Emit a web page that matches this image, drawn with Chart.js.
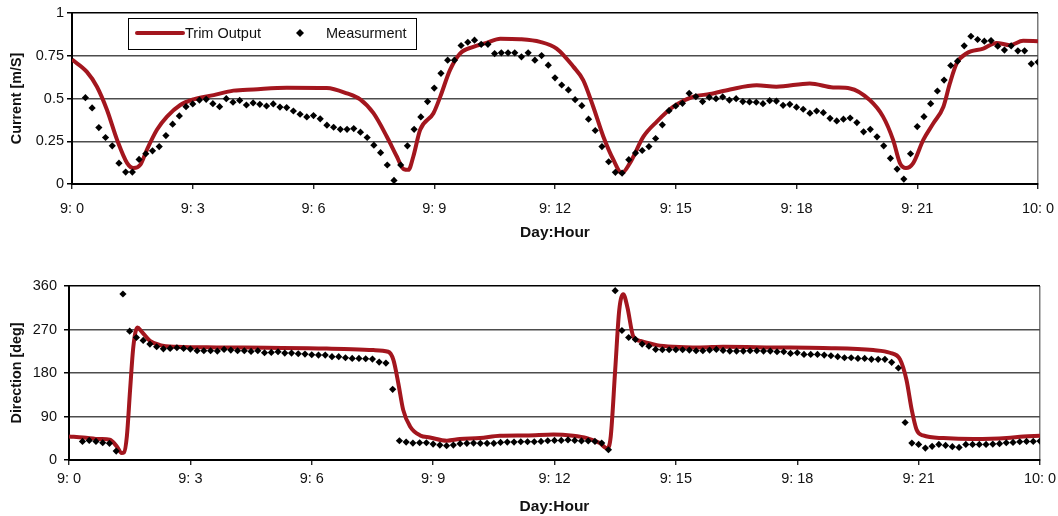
<!DOCTYPE html>
<html>
<head>
<meta charset="utf-8">
<script src="https://cdn.jsdelivr.net/npm/chart.js@4.4.0/dist/chart.umd.min.js"></script>
<style>
  body { margin: 0; background: #fff; }
  #top-wrap { position: absolute; left: 0; top: 0; width: 1058px; height: 258px; }
  #bottom-wrap { position: absolute; left: 0; top: 258px; width: 1058px; height: 258px; }
</style>
</head>
<body>
<div id="top-wrap"><canvas id="current-chart" width="1058" height="258"></canvas></div>
<div id="bottom-wrap"><canvas id="direction-chart" width="1058" height="258"></canvas></div>
<script>
// x axis: hours since day 9, 0:00
const xTickHours = [0, 3, 6, 9, 12, 15, 18, 21, 24];
const xTickLabels = ['9: 0', '9: 3', '9: 6', '9: 9', '9: 12', '9: 15', '9: 18', '9: 21', '10: 0'];

const currentTicks = [0, 0.25, 0.5, 0.75, 1];
const currentTickLabels = ['0', '0.25', '0.5', '0.75', '1'];
const directionTicks = [0, 90, 180, 270, 360];
const directionTickLabels = ['0', '90', '180', '270', '360'];

// measurements every 10 minutes starting at 0:20
const measStartHour = 1 / 3;
const measStepHour = 1 / 6;

const measCurrent = [
  0.505, 0.445, 0.33, 0.272, 0.223, 0.122, 0.07, 0.07, 0.144, 0.177,
  0.194, 0.219, 0.283, 0.35, 0.398, 0.452, 0.468, 0.491, 0.495, 0.47,
  0.452, 0.499, 0.478, 0.489, 0.462, 0.474, 0.466, 0.456, 0.468, 0.45,
  0.447, 0.427, 0.408, 0.392, 0.4, 0.381, 0.344, 0.332, 0.32, 0.32,
  0.324, 0.303,
  0.272, 0.227, 0.183, 0.111, 0.021, 0.111, 0.223, 0.32, 0.392, 0.482,
  0.561, 0.647, 0.724, 0.724, 0.81, 0.829, 0.841, 0.817, 0.817, 0.763,
  0.767, 0.767, 0.767, 0.744, 0.767, 0.724, 0.751, 0.695, 0.621, 0.579,
  0.55, 0.493, 0.458, 0.379, 0.313, 0.219, 0.13, 0.068, 0.064, 0.142,
  0.181, 0.196, 0.219, 0.266, 0.346, 0.429, 0.456, 0.472, 0.53, 0.511,
  0.482, 0.507, 0.499, 0.509, 0.491, 0.499, 0.482, 0.48, 0.478, 0.47,
  0.487, 0.485, 0.46, 0.466, 0.449, 0.437, 0.414, 0.427, 0.417, 0.384,
  0.369, 0.379, 0.386, 0.359, 0.305, 0.32, 0.276, 0.223, 0.15, 0.087,
  0.029, 0.177, 0.336, 0.394, 0.47, 0.544, 0.608, 0.693, 0.718, 0.808,
  0.864, 0.845, 0.835, 0.839, 0.806, 0.783, 0.808, 0.779, 0.779, 0.703,
  0.713
];

const measDirection = [
  38.5, 40.5, 38.5, 35.7, 34.4, 18.5, 343.5, 266.6, 253.5, 247.3,
  239.8, 234.3, 230.1, 230.8, 232.2, 230.8, 229.5, 226.0, 226.0, 226.0,
  225.3, 228.8, 227.4, 226.0, 226.0, 224.6, 226.0, 221.9, 222.6, 224.0,
  221.2, 221.2, 219.8, 219.2, 217.8, 217.1, 217.1, 213.7, 213.7, 211.6,
  210.2, 210.2,
  209.5, 208.8, 202.7, 200.6, 146.3,
  39.8, 37.1, 35.0, 35.7, 35.7, 33.0, 30.9, 29.5, 30.9, 33.7,
  34.4, 35.0, 34.4, 34.4, 34.4, 36.4, 37.1, 37.1, 37.8, 37.8,
  37.8, 38.5, 39.8, 40.5,
  40.5, 41.5, 40.5, 39.5, 39.5, 38.4, 35.0, 21.2,
  350.4, 267.9, 253.5, 249.4, 239.8, 235.6, 228.8, 228.1, 228.1, 228.1,
  228.1, 227.4, 226.0,
  226.0, 227.4, 228.8, 226.7, 225.3, 225.3, 225.3, 226.0, 226.0, 225.3,
  225.3, 224.0, 224.0, 220.5, 221.9, 218.5, 218.5, 218.5, 217.1, 215.7,
  213.7, 211.6, 211.6, 210.2, 210.2, 208.2, 208.2, 208.2, 202.0, 190.3,
  77.6, 35.0, 32.3, 24.7, 28.2, 32.3, 30.2, 27.5, 26.1, 32.3,
  32.3, 32.3, 32.3, 33.0, 33.7, 35.7, 36.4, 37.8, 38.5, 38.5,
  39.2
];

const trimCurrentHours = [
  0, 0.37, 0.62, 0.87, 1.12, 1.37, 1.53, 1.7, 1.86, 2.11,
  2.36, 2.69, 3.02, 3.52, 4.01, 4.51, 5.34, 6.33, 6.83, 7.16,
  7.49, 7.82, 8.07, 8.24, 8.36, 8.48, 8.65, 8.98, 9.15, 9.39,
  9.64, 9.97, 10.3, 10.64, 11.13, 11.63, 12.04, 12.46, 12.7, 12.95,
  13.2, 13.45, 13.66, 13.86, 14.2, 14.53, 14.94, 15.44, 15.85, 16.35,
  17.01, 17.5, 18.33, 18.91, 19.33, 19.82, 20.15, 20.4, 20.57, 20.72,
  20.9, 21.15, 21.4, 21.65, 21.81, 21.98, 22.22, 22.64, 22.97, 23.3,
  23.63, 24
];
const trimCurrentValues = [
  0.728, 0.656, 0.569, 0.433, 0.258, 0.122, 0.093, 0.113, 0.2, 0.317,
  0.394, 0.462, 0.495, 0.52, 0.546, 0.553, 0.563, 0.561, 0.53, 0.495,
  0.414, 0.278, 0.161, 0.087, 0.083, 0.161, 0.317, 0.414, 0.511, 0.666,
  0.763, 0.802, 0.825, 0.85, 0.847, 0.831, 0.792, 0.685, 0.608, 0.452,
  0.278, 0.142, 0.064, 0.122, 0.278, 0.365, 0.452, 0.511, 0.526, 0.553,
  0.577, 0.569, 0.588, 0.565, 0.559, 0.491, 0.394, 0.258, 0.122, 0.093,
  0.122, 0.258, 0.355, 0.452, 0.588, 0.705, 0.763, 0.792, 0.825, 0.812,
  0.837, 0.835
];

const trimDirectionHours = [
  0, 0.35, 0.77, 1.01, 1.18, 1.3, 1.36, 1.43, 1.51, 1.59,
  1.69, 1.8, 2.0, 2.25, 2.66, 3.65, 4.89, 6.37, 7.52, 7.89,
  8.02, 8.14, 8.26, 8.43, 8.68, 8.92, 9.34, 9.66, 10.16, 10.65,
  11.31, 11.97, 12.46, 12.8, 13.12, 13.3, 13.39, 13.5, 13.6, 13.7,
  13.8, 13.95, 14.11, 14.53, 14.94, 15.6, 16.17, 17.41, 18.64, 19.88,
  20.29, 20.54, 20.7, 20.83, 20.95, 21.11, 21.61, 22.35, 23.18, 23.59,
  24
];
const trimDirectionValues = [
  48.8, 46.7, 43.3, 41.9, 28.2, 14.4, 15.8, 48.8, 145, 234,
  274, 265.2, 246.6, 237.7, 234.3, 232.9, 232.2, 230.8, 227.4, 224,
  206.8, 158.7, 103.7, 69.4, 50.8, 46.7, 40, 43.3, 45.3, 50.2,
  50.8, 52.9, 50.2, 45.3, 35.0, 24, 48.8, 186.2, 309.8, 342.8,
  316.7, 254.9, 246.6, 237.7, 234.3, 232.9, 234.3, 232.9, 231.5, 227.4,
  221.9, 208.2, 165.6, 103.7, 62.5, 50.8, 45.3, 43.3, 45.3, 48.8,
  50.2
];

const trimColor = 'rgb(163, 22, 30)';
const textColor = '#111';
const fontFamily = "'Liberation Sans', Arial, Helvetica, sans-serif";

Chart.defaults.font.family = fontFamily;
Chart.defaults.color = textColor;

function makeMeasPoints(values) {
  return values.map((v, i) => ({ x: measStartHour + i * measStepHour, y: v }));
}

function makeLinePoints(hours, values) {
  return hours.map((h, i) => ({ x: h, y: values[i] }));
}

// legend drawn as a boxed row inside the top plot
const boxedLegend = {
  id: 'boxedLegend',
  afterDraw(chart) {
    const ctx = chart.ctx;
    const sets = chart.data.datasets;
    ctx.save();
    ctx.fillStyle = '#fff';
    ctx.fillRect(128.5, 18.5, 288, 31);
    ctx.strokeStyle = '#000';
    ctx.lineWidth = 1;
    ctx.strokeRect(128.5, 18.5, 288, 31);

    ctx.strokeStyle = trimColor;
    ctx.lineWidth = 4;
    ctx.lineCap = 'round';
    ctx.beginPath();
    ctx.moveTo(137, 33);
    ctx.lineTo(183, 33);
    ctx.stroke();

    ctx.fillStyle = textColor;
    ctx.font = '14.5px ' + fontFamily;
    ctx.textBaseline = 'middle';
    ctx.textAlign = 'left';
    ctx.fillText(sets[0].label, 185, 34);

    ctx.fillStyle = '#000';
    ctx.beginPath();
    ctx.moveTo(300, 29);
    ctx.lineTo(304, 33);
    ctx.lineTo(300, 37);
    ctx.lineTo(296, 33);
    ctx.closePath();
    ctx.fill();

    ctx.fillStyle = textColor;
    ctx.fillText(sets[1].label, 326, 34);
    ctx.restore();
  }
};

function makeConfig(o) {
  return {
    type: 'line',
    data: {
      datasets: [{
        label: 'Trim Output',
        data: makeLinePoints(o.trimHours, o.trimValues),
        borderColor: trimColor,
        borderWidth: 4,
        pointRadius: 0,
        cubicInterpolationMode: 'monotone',
        order: 2
      }, {
        label: 'Measurment',
        data: makeMeasPoints(o.meas),
        showLine: false,
        pointStyle: 'rectRot',
        pointRadius: 3.6,
        backgroundColor: '#000',
        borderColor: '#000',
        borderWidth: 0,
        order: 1
      }]
    },
    options: {
      responsive: false,
      animation: false,
      devicePixelRatio: 1,
      layout: {
        padding: { left: 0, right: o.padRight, top: o.padTop, bottom: 0 }
      },
      plugins: {
        legend: { display: false },
        tooltip: { enabled: false }
      },
      scales: {
        x: {
          type: 'linear',
          min: 0,
          max: 24,
          afterBuildTicks: s => { s.ticks = xTickHours.map(v => ({ value: v })); },
          afterFit: s => {
            s.height = o.xHeight;
            s.paddingLeft = 0;
            s.paddingRight = 0;
          },
          ticks: {
            callback: (v, i) => xTickLabels[i],
            font: { size: 14.5 },
            color: textColor,
            padding: o.xTickPad,
            maxRotation: 0,
            autoSkip: false
          },
          grid: {
            color: ctx => ctx.index === xTickHours.length - 1 ? '#7a7a7a' : 'rgba(0,0,0,0)',
            lineWidth: 1.5,
            tickColor: '#000',
            tickLength: 5,
            tickWidth: 1.2
          },
          border: { color: '#000', width: 2 },
          title: {
            display: true,
            text: 'Day:Hour',
            font: { size: 15.5, weight: 'bold' },
            color: textColor,
            padding: { top: 0, bottom: o.xTitlePad }
          }
        },
        y: {
          min: o.yTicks[0],
          max: o.yTicks[o.yTicks.length - 1],
          afterBuildTicks: s => { s.ticks = o.yTicks.map(v => ({ value: v })); },
          afterFit: s => {
            s.width = o.yWidth;
            s.paddingTop = 0;
            s.paddingBottom = 0;
          },
          ticks: {
            callback: (v, i) => o.yLabels[i],
            font: { size: 14.5 },
            color: textColor,
            padding: o.yTickPad
          },
          grid: {
            color: ctx => ctx.index === o.yTicks.length - 1 ? '#000' : '#4d4d4d',
            lineWidth: 1.5,
            tickColor: '#000',
            tickLength: 5
          },
          border: { color: '#000', width: 2 },
          title: {
            display: true,
            text: o.yTitle,
            font: { size: 14.3, weight: 'bold' },
            color: textColor,
            padding: { top: 8, bottom: 0 }
          }
        }
      }
    },
    plugins: o.plugins
  };
}

const currentChart = new Chart(
  document.getElementById('current-chart'),
  makeConfig({
    meas: measCurrent,
    trimHours: trimCurrentHours,
    trimValues: trimCurrentValues,
    yTicks: currentTicks,
    yLabels: currentTickLabels,
    yTitle: 'Current [m/S]',
    yWidth: 72,
    yTickPad: 3,
    xHeight: 74,
    xTickPad: 11,
    xTitlePad: 16,
    padTop: 13,
    padRight: 20,
    plugins: [boxedLegend]
  })
);

const directionChart = new Chart(
  document.getElementById('direction-chart'),
  makeConfig({
    meas: measDirection,
    trimHours: trimDirectionHours,
    trimValues: trimDirectionValues,
    yTicks: directionTicks,
    yLabels: directionTickLabels,
    yTitle: 'Direction [deg]',
    yWidth: 69,
    yTickPad: 7,
    xHeight: 56,
    xTickPad: 5,
    xTitlePad: 0,
    padTop: 28,
    padRight: 18,
    plugins: []
  })
);
</script>
</body>
</html>
